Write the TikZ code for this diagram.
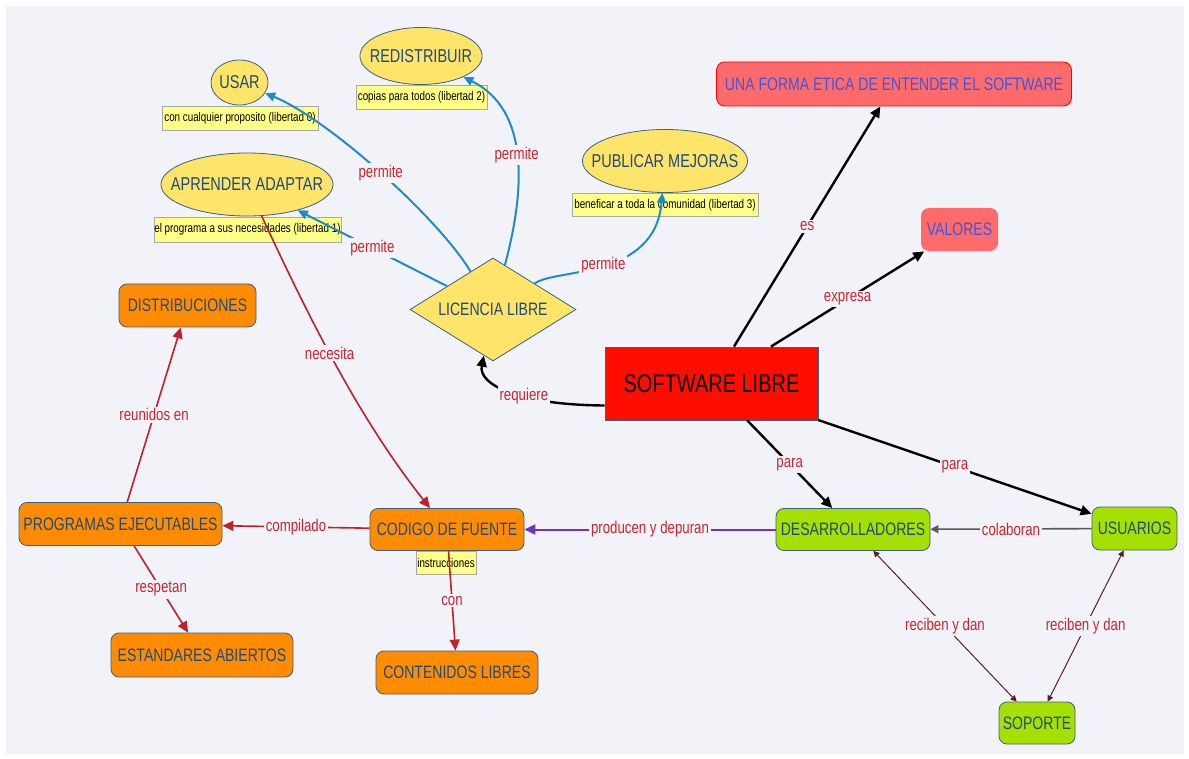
\documentclass[tikz,border=0pt]{standalone}
\usepackage{fontspec}
\setmainfont[FakeStretch=0.78]{Liberation Sans}
\usetikzlibrary{shapes.geometric,arrows.meta}

\definecolor{panel}{HTML}{F2F3F9}
\definecolor{ideafill}{HTML}{FFE46A}
\definecolor{ideaborder}{HTML}{3A6088}
\definecolor{nodetext}{HTML}{1F4A7A}
\definecolor{notafill}{HTML}{FFFF88}
\definecolor{notaborder}{HTML}{A8A8A8}
\definecolor{naranjafill}{HTML}{FF8C00}
\definecolor{verdefill}{HTML}{A5E000}
\definecolor{salmon}{HTML}{FF6B6B}
\definecolor{valortext}{HTML}{3F55E0}
\definecolor{rojo}{HTML}{FF0D00}
\definecolor{etiqred}{HTML}{C8262E}
\definecolor{azul}{HTML}{1E8CC8}
\definecolor{rojoline}{HTML}{C0202A}
\definecolor{morado}{HTML}{7030C0}
\definecolor{marron}{HTML}{5A1E1E}

\tikzset{
  idea/.style={ellipse, draw=ideaborder, fill=ideafill, text=nodetext, inner sep=0pt,
    font=\fontsize{9.3}{10}\selectfont},
  nota/.style={rectangle, draw=notaborder, fill=notafill, inner sep=0pt,
    font=\fontsize{6.3}{7}\selectfont},
  caja/.style={rectangle, rounded corners=4pt, draw=ideaborder, text=nodetext, inner sep=0pt,
    font=\fontsize{9}{10}\selectfont},
  naranja/.style={caja, fill=naranjafill},
  verde/.style={caja, fill=verdefill},
  valor/.style={rectangle, rounded corners=4pt, fill=salmon, text=valortext, inner sep=0pt,
    font=\fontsize{9}{10}\selectfont},
  etiq/.style={fill=panel, text=etiqred, inner sep=1pt, font=\fontsize{8.5}{9}\selectfont},
  negra/.style={->, line width=1.2pt, black},
  azulline/.style={->, line width=1pt, azul, >={Triangle[length=5pt,width=4.5pt]}},
  rojaline/.style={->, line width=0.8pt, rojoline},
  mutua/.style={<->, line width=0.5pt, marron, >={Triangle[length=3pt,width=3pt]}}
}

\begin{document}
\begin{tikzpicture}[x=0.5pt,y=-0.5pt,>={Triangle[length=5.5pt,width=5pt]}]
  \fill[white] (0,0) rectangle (1189,759);
  \fill[panel] (6,6) rectangle (1184,754);
  \useasboundingbox (0,0) rectangle (1189,759);

  % libertades
  \node[idea, minimum width=26.5pt, minimum height=22.5pt] (usar) at (239.5,82.5) {USAR};
  \node[nota, minimum width=78pt, minimum height=12pt] (notausar) at (240,118) {con cualquier proposito (libertad 0)};
  \node[idea, inner xsep=-4pt, minimum width=59.5pt, minimum height=28.5pt] (redis) at (421,56) {REDISTRIBUIR};
  \node[nota, minimum width=65.5pt, minimum height=12pt] (notaredis) at (421.5,97) {copias para todos (libertad 2)};
  \node[idea, inner xsep=-7.6pt, minimum width=84pt, minimum height=31.5pt] (apr) at (247,184.5) {APRENDER ADAPTAR};
  \node[nota, minimum width=93.5pt, minimum height=12.5pt] (notaapr) at (247.5,229.5) {el programa a sus necesidades (libertad 1)};
  \node[idea, inner xsep=-7.5pt, minimum width=80pt, minimum height=31.5pt] (pub) at (665,161) {PUBLICAR MEJORAS};
  \node[nota, minimum width=93pt, minimum height=11.5pt] (notapub) at (665,205) {beneficar a toda la comunidad (libertad 3)};

  \node[diamond, draw=ideaborder, fill=ideafill, text=nodetext, inner sep=0pt, aspect=1.6,
    minimum width=83pt, minimum height=51.5pt, font=\fontsize{9}{10}\selectfont] (lic) at (493,309.5) {LICENCIA LIBRE};

  \node[rectangle, draw=ideaborder, fill=rojo, minimum width=106.5pt, minimum height=36.5pt,
    font=\fontsize{12.8}{14}\selectfont] (sw) at (711.5,383.5) {SOFTWARE LIBRE};

  \node[valor, draw=red, minimum width=177.5pt, minimum height=22pt] (etica) at (894,84) {UNA FORMA ETICA DE ENTENDER EL SOFTWARE};
  \node[valor, minimum width=38.5pt, minimum height=21.5pt] (valores) at (959.5,229.5) {VALORES};

  \node[naranja, minimum width=68.5pt, minimum height=21.5pt] (dist) at (187.5,305.5) {DISTRIBUCIONES};
  \node[naranja, minimum width=101.5pt, minimum height=21.5pt] (prog) at (120.5,524) {PROGRAMAS EJECUTABLES};
  \node[naranja, minimum width=91pt, minimum height=22pt] (est) at (202,655) {ESTANDARES ABIERTOS};
  \node[naranja, minimum width=77pt, minimum height=21pt] (cod) at (447,529.5) {CODIGO DE FUENTE};
  \node[nota, minimum width=30pt, minimum height=11.5pt] (notacod) at (446,562.5) {instrucciones};
  \node[naranja, minimum width=81pt, minimum height=21.5pt] (cont) at (457,672.5) {CONTENIDOS LIBRES};

  \node[verde, minimum width=77pt, minimum height=21pt] (des) at (853,529.5) {DESARROLLADORES};
  \node[verde, minimum width=42.5pt, minimum height=21.5pt] (usu) at (1134.5,528.5) {USUARIOS};
  \node[verde, minimum width=38pt, minimum height=21pt] (sop) at (1037,723) {SOPORTE};

  % licencia
  \draw[azulline] (lic) .. controls (440,220) and (330,120) .. node[etiq, pos=0.5] {permite} (usar);
  \draw[azulline] (lic) .. controls (525,190) and (530,110) .. node[etiq, pos=0.5] {permite} (redis);
  \draw[azulline] (lic) -- node[etiq] {permite} (apr);
  \draw[azulline] (lic.north east) .. controls (555,268) and (655,280) .. node[etiq, pos=0.5] {permite} (pub);
  \draw[negra] ([yshift=-11pt]sw.west) .. controls (520,405) and (478,385) .. node[etiq, pos=0.4] {requiere} (lic);

  % software libre
  \draw[negra] (sw) -- node[etiq] {es} (etica);
  \draw[negra] (sw) -- node[etiq] {expresa} (valores);
  \draw[negra] (sw) -- node[etiq] {para} (des);
  \draw[negra] (sw) -- node[etiq] {para} (usu);

  % codigo
  \draw[rojaline] (apr) .. controls (310,320) and (360,420) .. node[etiq, pos=0.45] {necesita} (cod);
  \draw[rojaline] (prog) -- node[etiq] {reunidos en} (dist);
  \draw[rojaline] (cod) -- node[etiq] {compilado} (prog);
  \draw[rojaline] (prog) -- node[etiq] {respetan} (est);
  \draw[rojaline] (cod) -- node[etiq] {con} (cont);

  % comunidad
  \draw[->, line width=1pt, morado] (des) -- node[etiq] {producen y depuran} (cod);
  \draw[->, line width=0.8pt, black!65, >={Triangle[length=4pt,width=4pt]}] (usu) -- node[etiq] {colaboran} (des);
  \draw[mutua] (des) -- node[etiq] {reciben y dan} (sop);
  \draw[mutua] (usu) -- node[etiq] {reciben y dan} (sop);
\end{tikzpicture}
\end{document}
